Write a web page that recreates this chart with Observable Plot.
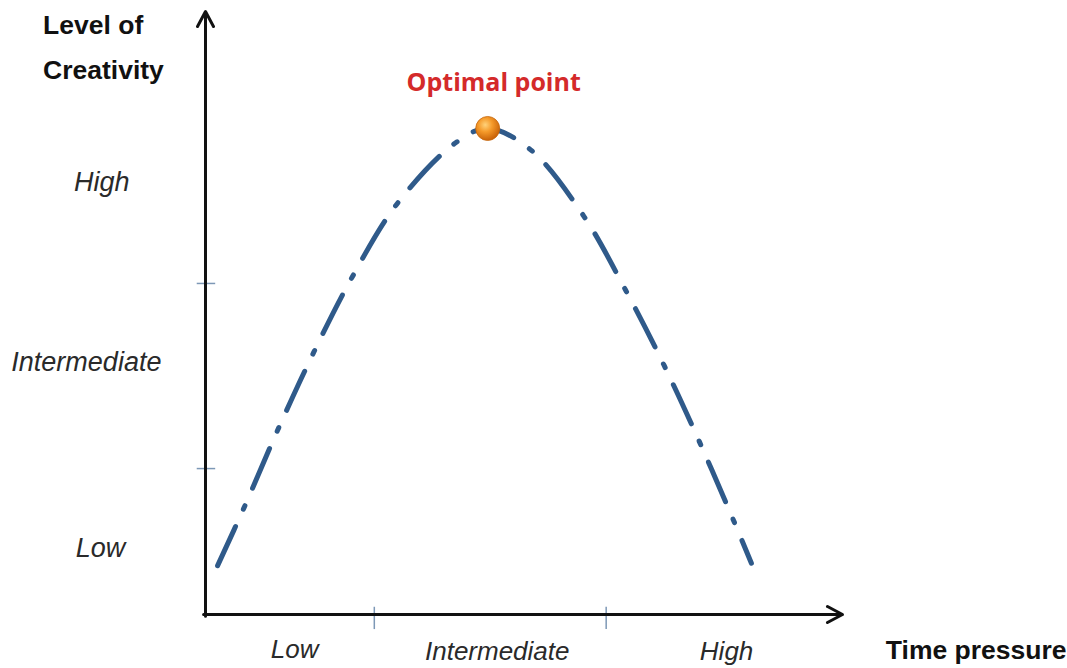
<!DOCTYPE html>
<html>
<head>
<meta charset="utf-8">
<script src="https://cdn.jsdelivr.net/npm/d3@7"></script>
<script src="https://cdn.jsdelivr.net/npm/@observablehq/plot@0.6"></script>
<style>
  html, body { margin: 0; padding: 0; background: #fff; }
  #chart svg { display: block; }
</style>
</head>
<body>
<div id="chart"></div>
<script>
// Inverted-U relation between time pressure and creativity (0–100 axis units)
const pressure   = [1.9, 6.0, 11.3, 17.0, 23.1, 30.0, 39.1, 44.3, 51.0, 59.3, 65.9, 72.0, 77.6, 82.9, 85.7];
const creativity = [8.1, 17.6, 30.5, 43.5, 56.1, 68.0, 78.1, 80.6, 77.1, 66.2, 53.9, 41.3, 28.5, 15.6, 8.5];

// Category boundaries on each axis and the category names
const levels = ["Low", "Intermediate", "High"];
const pressureTicks = [26.5, 62.9];
const creativityTicks = [24.2, 54.9];

// The optimum is the top of the curve
const peakIndex = creativity.indexOf(d3.max(creativity));
const optimum = [{x: pressure[peakIndex], y: creativity[peakIndex]}];

const curve = pressure.map((x, i) => ({x, y: creativity[i]}));

const FONT = "'Liberation Sans', Arial, Helvetica, sans-serif";
const AXIS_END = 100;

// Label placement (axis units)
const yLabelPos = [{x: -16.5, y: 10.9}, {x: -18.7, y: 41.8}, {x: -16.3, y: 71.6}];
const xLabelPos = [{x: 14.0, y: -5.8}, {x: 45.8, y: -6.1}, {x: 81.8, y: -6.2}];

const plot = Plot.plot({
  width: 1067,
  height: 668,
  margin: 0,
  x: {domain: [0, AXIS_END], range: [205, 842], axis: null},
  y: {domain: [0, AXIS_END], range: [614, 11], axis: null},
  marks: [
    // category tick marks
    Plot.ruleX(pressureTicks, {x: d => d, y1: 1.2, y2: -2.5, stroke: "#7d98b6", strokeWidth: 1.5}),
    Plot.ruleY(creativityTicks, {y: d => d, x1: -1.3, x2: 1.6, stroke: "#7d98b6", strokeWidth: 1.5}),
    // axes with open arrowheads
    Plot.arrow([{x1: -0.3, y1: 0, x2: AXIS_END, y2: 0}], {
      x1: "x1", y1: "y1", x2: "x2", y2: "y2",
      stroke: "#111", strokeWidth: 3, headLength: 8.5, headAngle: 56
    }),
    Plot.arrow([{x1: 0, y1: -0.3, x2: 0, y2: AXIS_END}], {
      x1: "x1", y1: "y1", x2: "x2", y2: "y2",
      stroke: "#111", strokeWidth: 3, headLength: 8.5, headAngle: 56
    }),
    // dash-dot curve
    Plot.line(curve, {
      x: "x", y: "y", curve: "catmull-rom",
      stroke: "#2f5a8a", strokeWidth: 5,
      strokeDasharray: "43,19,4,19"
    }),
    // optimum marker
    Plot.dot(optimum, {x: "x", y: "y", r: 12, fill: "url(#optimumBall)", stroke: "#c76a10", strokeWidth: 0.8}),
    Plot.text(optimum, {
      x: "x", y: "y", dx: 6, dy: -45, text: () => "Optimal point",
      fill: "#d42a2a", fontSize: 25, fontWeight: "bold", fontFamily: "'Open Sans', sans-serif"
    }),
    // category labels
    Plot.text(levels, {
      x: (d, i) => yLabelPos[i].x, y: (d, i) => yLabelPos[i].y, text: d => d,
      fontSize: 27, fontStyle: "italic", fill: "#2a2a2a", fontFamily: FONT
    }),
    Plot.text(levels, {
      x: (d, i) => xLabelPos[i].x, y: (d, i) => xLabelPos[i].y, text: d => d,
      fontSize: 26, fontStyle: "italic", fill: "#2a2a2a", fontFamily: FONT
    }),
    // axis titles
    Plot.text(["Level of", "Creativity"], {
      x: -25.5, y: (d, i) => [97.7, 90.2][i], text: d => d, textAnchor: "start",
      fontSize: 26.5, fontWeight: "bold", fill: "#111", fontFamily: FONT
    }),
    Plot.text(["Time pressure"], {
      x: 106.8, y: -5.9, text: d => d, textAnchor: "start",
      fontSize: 26.5, fontWeight: "bold", fill: "#111", fontFamily: FONT
    })
  ]
});

// radial gradient for the glossy optimum ball
const defs = d3.select(plot).insert("defs", ":first-child");
const grad = defs.append("radialGradient")
  .attr("id", "optimumBall").attr("cx", "40%").attr("cy", "35%").attr("r", "65%");
grad.append("stop").attr("offset", "0%").attr("stop-color", "#ffd27a");
grad.append("stop").attr("offset", "45%").attr("stop-color", "#f59a2a");
grad.append("stop").attr("offset", "100%").attr("stop-color", "#c96208");

document.getElementById("chart").appendChild(plot);
</script>
</body>
</html>
